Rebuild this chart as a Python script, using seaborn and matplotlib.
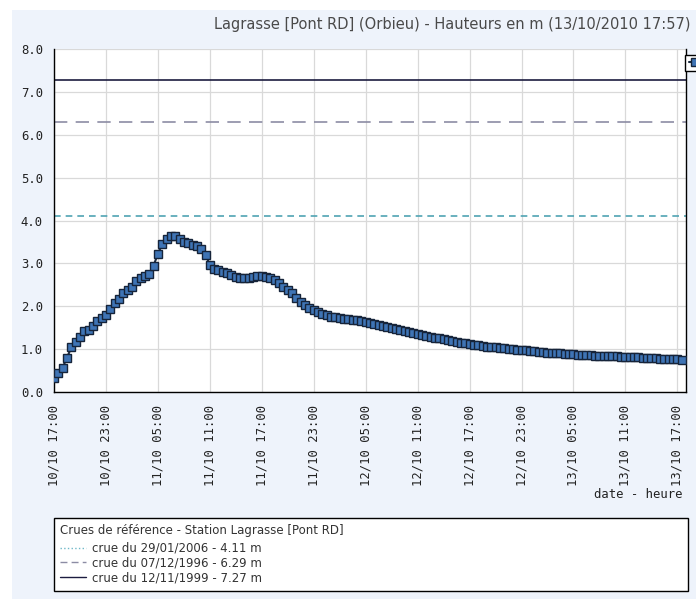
import pandas as pd
import numpy as np
import seaborn as sns
import matplotlib.pyplot as plt
import matplotlib.dates as mdates
from matplotlib.lines import Line2D
from matplotlib.patches import Rectangle

# hauteurs relevees toutes les 30 min depuis le 10/10/2010 17:00
start = "2010-10-10 17:00"
heights = [
    0.33, 0.45, 0.57, 0.80, 1.04, 1.17, 1.29, 1.42, 1.45, 1.54,
    1.65, 1.73, 1.79, 1.93, 2.07, 2.17, 2.30, 2.38, 2.45, 2.58,
    2.67, 2.70, 2.76, 2.95, 3.22, 3.45, 3.57, 3.65, 3.63, 3.57,
    3.51, 3.47, 3.44, 3.40, 3.33, 3.20, 2.97, 2.87, 2.84, 2.81,
    2.77, 2.73, 2.69, 2.67, 2.67, 2.67, 2.69, 2.70, 2.70, 2.68,
    2.66, 2.61, 2.54, 2.46, 2.39, 2.30, 2.20, 2.11, 2.03, 1.96,
    1.91, 1.86, 1.82, 1.79, 1.76, 1.74, 1.72, 1.71, 1.70, 1.68,
    1.67, 1.66, 1.64, 1.61, 1.59, 1.56, 1.54, 1.52, 1.49, 1.47,
    1.45, 1.42, 1.39, 1.37, 1.35, 1.33, 1.31, 1.29, 1.27, 1.25,
    1.23, 1.21, 1.19, 1.17, 1.15, 1.14, 1.12, 1.10, 1.09, 1.08,
    1.06, 1.05, 1.04, 1.03, 1.02, 1.01, 1.00, 0.99, 0.98, 0.97,
    0.96, 0.95, 0.94, 0.93, 0.92, 0.91, 0.91, 0.90, 0.89, 0.89,
    0.88, 0.87, 0.87, 0.86, 0.86, 0.85, 0.85, 0.84, 0.84, 0.83,
    0.83, 0.82, 0.82, 0.82, 0.81, 0.81, 0.80, 0.80, 0.79, 0.79,
    0.78, 0.78, 0.77, 0.77, 0.76, 0.75,
]
times = pd.date_range(start, periods=len(heights), freq="30min")

ref_levels = [4.11, 6.29, 7.27]
ref_labels = ["crue du 29/01/2006 - 4.11 m",
              "crue du 07/12/1996 - 6.29 m",
              "crue du 12/11/1999 - 7.27 m"]
ref_colors = ["#4fa3b3", "#8c8ca4", "#1c1c40"]

title = "Lagrasse [Pont RD] (Orbieu) - Hauteurs en m (13/10/2010 17:57)"
legend_title = "Crues de référence - Station Lagrasse [Pont RD]"

df = pd.DataFrame({"date": times, "hauteur": heights})

sns.set_style("white")
plt.rcParams["font.family"] = ["DejaVu Sans"]

fig = plt.figure(figsize=(6.96, 5.99), dpi=100, facecolor="white")
# fond bleu clair du panneau
fig.patches.append(Rectangle((12 / 696, 0), 1, 1 - 10 / 599, transform=fig.transFigure,
                             facecolor="#eef3fb", edgecolor="none", zorder=-10))
ax = fig.add_axes([54 / 696, 1 - 392 / 599, 632 / 696, 343 / 599])
ax.set_facecolor("white")

# lignes de reference
ax.axhline(ref_levels[0], color=ref_colors[0], lw=1.2, dashes=(4, 3), zorder=2)
ax.axhline(ref_levels[1], color=ref_colors[1], lw=1.2, dashes=(8, 5), zorder=2)
ax.axhline(ref_levels[2], color=ref_colors[2], lw=1.2, zorder=2)

sns.lineplot(data=df, x="date", y="hauteur", ax=ax, color="#1a2a40", lw=1.5,
             marker="s", markersize=6, markerfacecolor="#3f74b5",
             markeredgecolor="#16243a", markeredgewidth=1.0, zorder=3,
             label=" ")

ax.set_ylim(0, 8)
ax.set_xlim(pd.Timestamp("2010-10-10 17:00"), pd.Timestamp("2010-10-13 18:00"))
ax.set_yticks(np.arange(0, 8.5, 1))
ax.set_yticks(np.arange(0.5, 8, 1), minor=True)
ax.yaxis.set_major_formatter(plt.FormatStrFormatter("%.1f"))
ax.xaxis.set_major_locator(mdates.HourLocator(byhour=[5, 11, 17, 23]))
ax.xaxis.set_minor_locator(mdates.HourLocator())
ax.xaxis.set_major_formatter(mdates.DateFormatter("%d/%m %H:%M"))

ax.grid(True, which="major", color="#d9d9d9", lw=0.9)
ax.tick_params(which="both", direction="in", color="black", width=1)
ax.tick_params(axis="x", which="major", length=6, pad=9, rotation=90)
ax.tick_params(axis="x", which="minor", length=4)
ax.tick_params(axis="y", which="major", length=6, pad=8)
ax.tick_params(axis="y", which="minor", length=6)
for lab in ax.get_xticklabels() + ax.get_yticklabels():
    lab.set_family("DejaVu Sans Mono")
    lab.set_fontsize(8.8)
    lab.set_color("#222222")

ax.spines["top"].set_visible(False)
for s in ["left", "bottom", "right"]:
    ax.spines[s].set_color("black")
    ax.spines[s].set_linewidth(1)

ax.set_xlabel("")
ax.set_ylabel("")
fig.text(683 / 696, 1 - 495 / 599, "date - heure", ha="right", va="center",
         family="DejaVu Sans Mono", fontsize=8.8, color="#222222")
fig.text(690 / 696, 1 - 25 / 599, title, ha="right", va="center",
         fontsize=10.5, color="#4a4a4a")

# petite legende de la serie (coupee par le bord)
leg1 = ax.legend(loc="upper left", bbox_to_anchor=(0.99, 1.0), frameon=True,
                 fancybox=False, edgecolor="black", handlelength=1.2,
                 borderpad=0.3, fontsize=8, framealpha=1)
leg1.get_frame().set_linewidth(1)

# legende des crues de reference
handles = [Line2D([], [], color="#6fb8c8", lw=1, ls=":"),
           Line2D([], [], color=ref_colors[1], lw=1, dashes=(5, 3)),
           Line2D([], [], color=ref_colors[2], lw=1)]
leg2 = fig.legend(handles, ref_labels, title=legend_title, loc="upper left",
                  bbox_to_anchor=(54 / 696, 1 - 594 / 599, 634 / 696, 76 / 599),
                  mode="expand", frameon=True, fancybox=False, edgecolor="black",
                  fontsize=8.5, title_fontsize=8.5, handlelength=2.2,
                  handletextpad=0.5, labelspacing=0.15, borderpad=0.55,
                  borderaxespad=0, framealpha=1)
leg2._legend_box.align = "left"
leg2._legend_box.sep = 3
leg2.get_frame().set_linewidth(1)
leg2.get_title().set_color("#333333")
for t in leg2.get_texts():
    t.set_color("#333333")

fig.savefig("out.png", dpi=100)
